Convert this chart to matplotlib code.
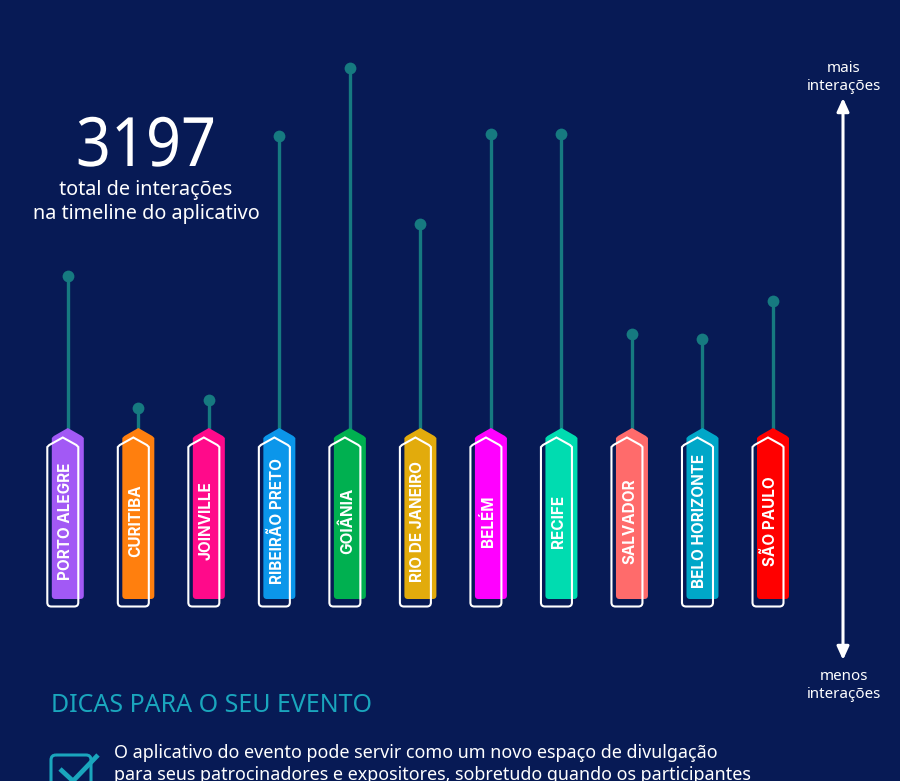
import matplotlib
matplotlib.use('Agg')
import matplotlib.pyplot as plt
from matplotlib.path import Path
from matplotlib.patches import PathPatch, FancyArrowPatch, FancyBboxPatch
from matplotlib.patheffects import AbstractPathEffect
from matplotlib.transforms import Affine2D

# data
cities = ['PORTO ALEGRE', 'CURITIBA', 'JOINVILLE', 'RIBEIRÃO PRETO', 'GOIÂNIA', 'RIO DE JANEIRO',
          'BELÉM', 'RECIFE', 'SALVADOR', 'BELO HORIZONTE', 'SÃO PAULO']
interactions = [249, 36, 49, 476, 585, 333, 479, 479, 155, 147, 209]
colors = ['#a259f5', '#ff7f0e', '#ff0a8a', '#0b96ea', '#00b050', '#e2ab0c',
          '#ff00ff', '#00dcb0', '#ff6b6b', '#00a7c8', '#ff0000']

BG = '#071a55'
STEM = '#167a80'
TEAL = '#1aa6bd'
W, H = 900, 781
X0, DX = 67.8, 70.52   # px of first category, px between categories
BASE, SCALE = 430.0, 1.618  # px of value 0, value units per px


class Squeeze(AbstractPathEffect):
  # aperta o texto na horizontal (algarismos proporcionais do original)
  def __init__(self, cx, factor):
    super().__init__()
    self.cx, self.factor = cx, factor

  def draw_path(self, renderer, gc, tpath, affine, rgbFace=None):
    squeeze = Affine2D().translate(-self.cx, 0).scale(self.factor, 1).translate(self.cx, 0)
    renderer.draw_path(gc, tpath, affine + squeeze, rgbFace)


def tag_path(cx, top, shoulder, bottom, half, r=3.5):
  # etiqueta com ponta no topo e cantos arredondados embaixo
  left, right = cx - half, cx + half
  verts = [
    (cx, top), (right - 2, shoulder - 1), (right, shoulder + 1),
    (right, bottom - r), (right, bottom), (right - r, bottom),
    (left + r, bottom), (left, bottom), (left, bottom - r),
    (left, shoulder + 1), (left + 2, shoulder - 1), (cx, top),
  ]
  codes = [Path.MOVETO, Path.LINETO, Path.LINETO,
           Path.LINETO, Path.CURVE3, Path.CURVE3,
           Path.LINETO, Path.CURVE3, Path.CURVE3,
           Path.LINETO, Path.LINETO, Path.CLOSEPOLY]
  return Path(verts, codes)


fig = plt.figure(figsize=(W / 100, H / 100), dpi=100, facecolor=BG)

# eixo dos dados: categoria x interações
ax = fig.add_axes([0, 0, 1, 1], facecolor='none', zorder=1)
ax.set_xlim(-X0 / DX, (W - X0) / DX)
ax.set_ylim((BASE - H) * SCALE, BASE * SCALE)
ax.axis('off')
for i, v in enumerate(interactions):
  ax.plot([i, i], [0, v], color=STEM, lw=2.4, solid_capstyle='butt', zorder=1)
ax.scatter(range(len(interactions)), interactions, s=72, color=STEM, linewidths=0, zorder=2)

# eixo em pixels para etiquetas e textos
px = fig.add_axes([0, 0, 1, 1], facecolor='none', zorder=2)
px.set_xlim(0, W)
px.set_ylim(H, 0)
px.axis('off')

for i, (city, c) in enumerate(zip(cities, colors)):
  cx = X0 + DX * i
  px.add_patch(PathPatch(tag_path(cx, 428, 437, 599, 16), fc=c, ec='none', zorder=2))
  px.add_patch(PathPatch(tag_path(cx - 5, 437.5, 446, 606.5, 15.5, r=4), fc='none', ec='white', lw=1.5, zorder=3))
  px.text(cx - 2.5, 521, city, rotation=90, ha='center', va='center', color='white',
          fontsize=11, fontweight='bold', family='Inter', zorder=4)

px.text(146, 148, '3197', ha='center', va='center', color='white', fontsize=49, family='Noto Sans',
        path_effects=[Squeeze(146, 0.9)])
px.text(146, 190, 'total de interações', ha='center', va='center', color='white', fontsize=14.27, family='Noto Sans')
px.text(146, 214, 'na timeline do aplicativo', ha='center', va='center', color='white', fontsize=14.27, family='Noto Sans')

px.text(843.5, 68, 'mais', ha='center', va='center', color='white', fontsize=10.9, family='Noto Sans')
px.text(843.5, 86, 'interações', ha='center', va='center', color='white', fontsize=10.9, family='Noto Sans')
px.text(843.5, 677, 'menos', ha='center', va='center', color='white', fontsize=10.9, family='Noto Sans')
px.text(843.5, 695, 'interações', ha='center', va='center', color='white', fontsize=10.9, family='Noto Sans')
px.add_patch(FancyArrowPatch((843, 98), (843, 660), arrowstyle='<|-|>,head_length=0.66,head_width=0.3',
                             mutation_scale=12, color='white', lw=2.2, shrinkA=0, shrinkB=0))

px.text(51, 706, 'DICAS PARA O SEU EVENTO', ha='left', va='center', color=TEAL, fontsize=18.0, family='Noto Sans')

# caixa de seleção
px.add_patch(FancyBboxPatch((51, 755), 40, 40, boxstyle='round,pad=0,rounding_size=5', fc='none', ec=TEAL, lw=2.2))
px.plot([60, 73, 98], [769, 781, 755], color=TEAL, lw=3.4, solid_capstyle='butt', zorder=4)

px.text(113.5, 753, 'O aplicativo do evento pode servir como um novo espaço de divulgação',
        ha='left', va='center', color='white', fontsize=12.9, family='Noto Sans')
px.text(113.5, 775, 'para seus patrocinadores e expositores, sobretudo quando os participantes',
        ha='left', va='center', color='white', fontsize=12.9, family='Noto Sans')

fig.savefig('out.png', dpi=100, facecolor=BG)
